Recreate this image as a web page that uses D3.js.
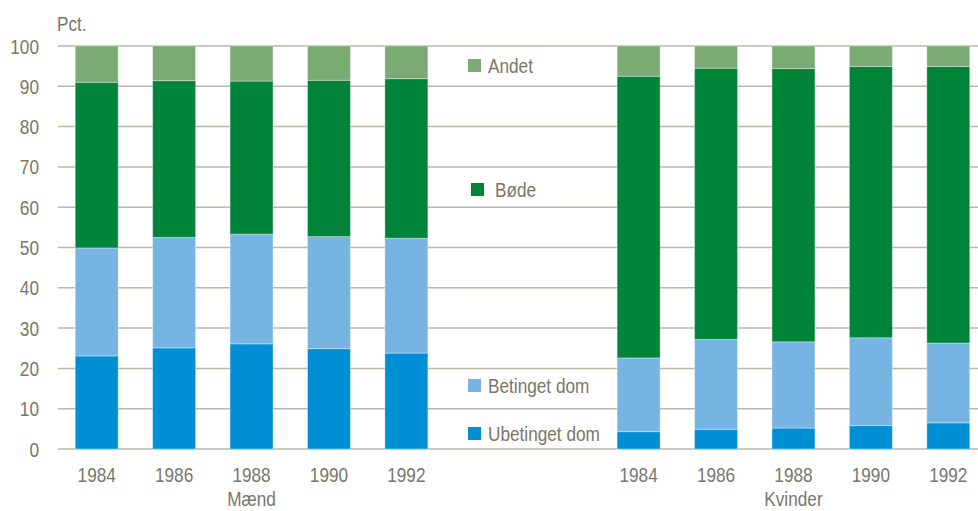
<!DOCTYPE html>
<html>
<head>
<meta charset="utf-8">
<script src="https://cdn.jsdelivr.net/npm/d3@7"></script>
<style>
  body { margin: 0; background: #fff; }
  svg { display: block; font-family: "Liberation Sans", Arial, sans-serif; }
</style>
</head>
<body>
<svg id="chart" width="978" height="511"></svg>
<script>
// data (percent shares, stacked to 100)
const years = ['1984', '1986', '1988', '1990', '1992'];
const groups = ['Mænd', 'Kvinder'];
const seriesNames = ['Ubetinget dom', 'Betinget dom', 'Bøde', 'Andet'];
const ubetinget = { 'Mænd': [23.1, 25.1, 26.1, 24.9, 23.8], 'Kvinder': [4.3, 4.9, 5.2, 5.8, 6.5] };
const betinget  = { 'Mænd': [26.8, 27.4, 27.2, 27.8, 28.5], 'Kvinder': [18.3, 22.3, 21.4, 21.8, 19.8] };
const bode      = { 'Mænd': [41.1, 38.9, 38.0, 38.8, 39.6], 'Kvinder': [69.9, 67.3, 67.8, 67.3, 68.6] };
const andet     = { 'Mænd': [9.0, 8.6, 8.7, 8.5, 8.1], 'Kvinder': [7.5, 5.5, 5.6, 5.1, 5.1] };
const yTicks = [0, 10, 20, 30, 40, 50, 60, 70, 80, 90, 100];

const colors = ['#008fd5', '#76b5e3', '#00843a', '#7aab72'];
const textCol = '#77776a';
const gridCol = '#b8b8a8';
const fs = 21;
const squeeze = 0.82; // the original font is a narrow one

const svg = d3.select('#chart');

// narrow text: plain Liberation Sans squeezed sideways
const label = (parent, x, y, txt, anchor = 'start') => {
  parent.append('text')
    .attr('transform', `translate(${x},${y}) scale(${squeeze},1)`)
    .attr('text-anchor', anchor)
    .attr('font-size', fs)
    .attr('fill', textCol)
    .text(txt);
};

// one slot per bar, two empty slots in between for the legend
const slots = [];
groups.forEach((g, gi) => {
  years.forEach(y => slots.push(`${g}|${y}`));
  if (gi === 0) slots.push('gap1', 'gap2');
});

const rows = [];
groups.forEach(g => years.forEach((y, i) => {
  rows.push({ key: `${g}|${y}`, group: g, year: y,
    'Ubetinget dom': ubetinget[g][i], 'Betinget dom': betinget[g][i],
    'Bøde': bode[g][i], 'Andet': andet[g][i] });
}));

const x = d3.scaleBand().domain(slots).range([58, 987]).paddingInner(0.445).paddingOuter(0.2225);
const y = d3.scaleLinear().domain([0, 100]).range([449, 46]);

// gridlines
svg.append('g')
  .selectAll('line')
  .data(yTicks)
  .join('line')
  .attr('x1', 58).attr('x2', 978)
  .attr('y1', d => y(d)).attr('y2', d => y(d))
  .attr('stroke', gridCol)
  .attr('stroke-width', 1.5);

// y tick labels
const yl = svg.append('g');
yTicks.forEach(t => label(yl, 39, y(t) + 7.5, t, 'end'));

label(svg, 57, 31, 'Pct.');

// stacked bars
const stack = d3.stack().keys(seriesNames)(rows);
svg.append('g')
  .selectAll('g')
  .data(stack)
  .join('g')
  .attr('fill', (d, i) => colors[i])
  .selectAll('rect')
  .data(d => d)
  .join('rect')
  .attr('x', d => x(d.data.key))
  .attr('width', x.bandwidth())
  .attr('y', d => y(d[1]))
  .attr('height', d => y(d[0]) - y(d[1]))
  .attr('stroke', 'rgba(255,255,255,0.35)')
  .attr('stroke-width', 1);

// year labels
const xl = svg.append('g');
rows.forEach(d => label(xl, x(d.key) + x.bandwidth() / 2, 482, d.year, 'middle'));

// group labels
groups.forEach(g => {
  const first = x(`${g}|${years[0]}`);
  const last = x(`${g}|${years[years.length - 1]}`) + x.bandwidth();
  label(svg, (first + last) / 2, 506, g, 'middle');
});

// legend sits in the gap, each entry next to its segment level
const legend = [
  { name: 'Andet', i: 3, sx: 468, sy: 59 },
  { name: 'Bøde', i: 2, sx: 471, sy: 183 },
  { name: 'Betinget dom', i: 1, sx: 468, sy: 379 },
  { name: 'Ubetinget dom', i: 0, sx: 468, sy: 427 }
];
const lg = svg.append('g');
legend.forEach(d => {
  lg.append('rect')
    .attr('x', d.sx).attr('y', d.sy)
    .attr('width', 13).attr('height', 13)
    .attr('fill', colors[d.i]);
  label(lg, d.sx + (d.name === 'Bøde' ? 24 : 20), d.sy + 14, d.name);
});
</script>
</body>
</html>
